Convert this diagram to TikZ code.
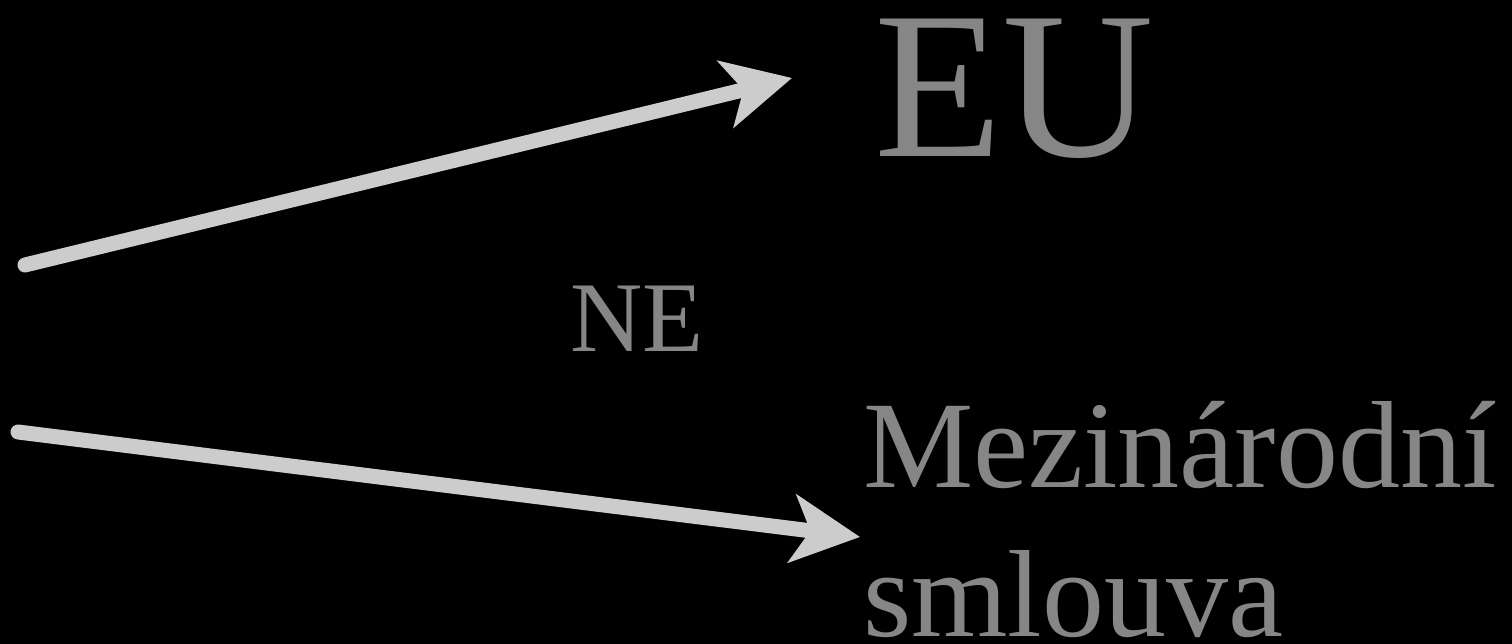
\documentclass[tikz,border=0pt]{standalone}
\usepackage{fontspec}
\setmainfont{Liberation Serif}
\usetikzlibrary{arrows.meta}
\definecolor{txtgray}{RGB}{134,134,134}
\definecolor{arrgray}{RGB}{204,204,204}
\begin{document}
\begin{tikzpicture}[x=1pt,y=1pt,
  lbl/.style={text=txtgray, inner sep=0pt, outer sep=0pt, anchor=base west},
  bigarrow/.style={draw=arrgray, line width=15pt, line cap=round,
    -{Stealth[length=68pt, width=68pt, inset=18pt]}}]
\fill[black] (0,0) rectangle (1512,644);
\useasboundingbox (0,0) rectangle (1512,644);
\node[lbl, font=\fontsize{210}{252}\selectfont] (eu) at (874,487) {EU};
\node[lbl, font=\fontsize{100}{120}\selectfont] (ne) at (570,292) {NE};
\node[lbl, align=left, font=\fontsize{124}{149}\selectfont] (mez) at (863,7) {Mezinárodní\\smlouva};
\coordinate (s1) at (25,379);
\coordinate (t1) at (792,566);
\coordinate (s2) at (18,212);
\coordinate (t2) at (860,107);
\draw[bigarrow] (s1) -- (t1);
\draw[bigarrow] (s2) -- (t2);
\end{tikzpicture}
\end{document}
